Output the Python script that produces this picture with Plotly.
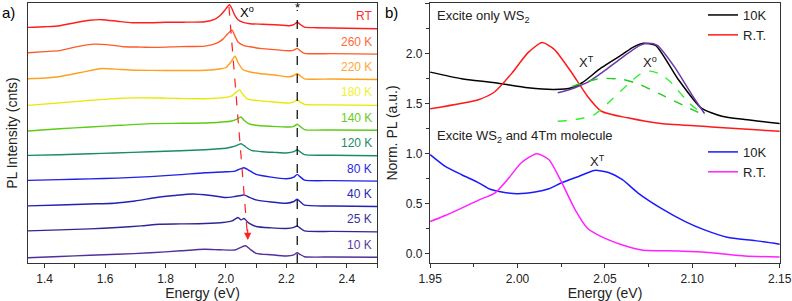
import plotly.graph_objects as go

# ---------------- Panel a: temperature-dependent PL (offset spectra) ----------------
temps = ["RT", "260 K", "220 K", "180 K", "140 K", "120 K", "80 K", "40 K", "25 K", "10 K"]
temp_colors = ["#ff1e1e", "#ff5a28", "#ffa01e", "#e8e800", "#5ccc14",
               "#1a8c64", "#2020e8", "#2222b4", "#2e2698", "#50309a"]
label_colors = ["#ff3030", "#ff6a3a", "#ffa830", "#f0f030", "#66cc22",
                "#1a8c64", "#2a2ae8", "#2a2ab4", "#3a3298", "#5a3aa0"]

E_RT = [1.345, 1.40, 1.45, 1.50, 1.55, 1.59, 1.64, 1.69, 1.75, 1.80, 1.86, 1.93, 1.96, 1.98, 1.995,
        2.005, 2.012, 2.02, 2.03, 2.04, 2.06, 2.08, 2.12, 2.16, 2.21, 2.225, 2.236, 2.245, 2.26, 2.30, 2.40, 2.50]
I_RT = [1.3, 2, 3, 6, 8.5, 9, 7.5, 6, 6, 6.5, 6.5, 7, 9, 13, 18,
        22, 24, 20, 13, 9, 6, 5, 4.5, 4, 3, 4, 6.5, 4.5, 1.5, 1, 0.5, 0]

E_260 = [1.345, 1.40, 1.45, 1.50, 1.565, 1.62, 1.665, 1.72, 1.77, 1.85, 1.93, 1.97, 1.99, 2.005, 2.02,
         2.03, 2.04, 2.06, 2.08, 2.12, 2.16, 2.21, 2.225, 2.236, 2.245, 2.26, 2.35, 2.50]
I_260 = [1.3, 2.5, 3.5, 7, 10, 9, 7.3, 7, 6.7, 7.5, 8, 11, 15, 20, 24,
         18, 12, 8.5, 7.3, 5.5, 4.5, 3.3, 4, 5.7, 3.5, 0.7, 0.5, 0]

E_220 = [1.345, 1.40, 1.45, 1.52, 1.59, 1.65, 1.70, 1.80, 1.93, 1.98, 2.00, 2.015, 2.03, 2.04, 2.056,
         2.08, 2.11, 2.16, 2.21, 2.225, 2.236, 2.245, 2.26, 2.35, 2.50]
I_220 = [0.7, 1.5, 3, 7, 11, 10, 9.3, 9, 9.3, 10.5, 12, 17, 23.3, 17, 10,
         7.5, 6, 4.5, 2.7, 4, 6, 4, 0.7, 0.5, 0]

E_180 = [1.345, 1.45, 1.55, 1.62, 1.70, 1.80, 1.93, 2.00, 2.02, 2.035, 2.045, 2.055, 2.07, 2.10, 2.15,
         2.21, 2.225, 2.236, 2.245, 2.26, 2.35, 2.50]
I_180 = [-0.5, 2, 4.5, 6, 7, 6.8, 6.2, 7.5, 9, 13, 15, 11, 6, 4.5, 3,
         1.8, 3, 5, 3, 0.5, 0, -0.5]

E_140 = [1.345, 1.45, 1.55, 1.65, 1.75, 1.85, 1.93, 2.00, 2.02, 2.035, 2.05, 2.06, 2.075, 2.10, 2.15,
         2.21, 2.225, 2.236, 2.245, 2.26, 2.35, 2.50]
I_140 = [-0.7, 1.5, 3.3, 5, 6.7, 7, 7.3, 8.5, 9.3, 11, 13.3, 10, 6.7, 5, 4,
         3.3, 4, 6, 4, 0.7, 0.3, 0]

E_120 = [1.345, 1.45, 1.55, 1.63, 1.75, 1.85, 1.93, 2.00, 2.03, 2.05, 2.06, 2.084, 2.12, 2.16, 2.20,
         2.225, 2.236, 2.245, 2.26, 2.35, 2.50]
I_120 = [0.3, 1, 2, 2.7, 4, 5, 6, 7.5, 9.5, 12, 10, 5.3, 4, 3.3, 2.7,
         4, 6, 4, 1, 0.5, 0]

E_80 = [1.345, 1.45, 1.55, 1.64, 1.75, 1.85, 1.93, 2.00, 2.03, 2.05, 2.06, 2.075, 2.10, 2.15, 2.20,
        2.225, 2.236, 2.245, 2.26, 2.35, 2.50]
I_80 = [0.7, 1.5, 2.2, 3, 4.5, 6.5, 8.4, 9.3, 10, 12.5, 13.4, 11, 6.7, 4, 2.4,
        4, 6.7, 4.5, 1, 0.5, 0]

E_40 = [1.345, 1.45, 1.55, 1.63, 1.70, 1.77, 1.83, 1.89, 1.95, 2.00, 2.03, 2.05, 2.06, 2.075, 2.10,
        2.15, 2.20, 2.225, 2.236, 2.245, 2.26, 2.35, 2.50]
I_40 = [0.6, 1.5, 2.5, 3.3, 5.5, 9, 11, 12.5, 11, 9, 10, 11, 11.6, 9.5, 6.6,
        4.5, 3.3, 5, 7.3, 5, 1.3, 0.5, 0]

E_25 = [1.345, 1.45, 1.55, 1.64, 1.72, 1.78, 1.85, 1.93, 1.99, 2.02, 2.04, 2.05, 2.06, 2.075, 2.10,
        2.15, 2.20, 2.225, 2.236, 2.245, 2.26, 2.35, 2.50]
I_25 = [1, 2, 3, 4.4, 6, 7.7, 8, 8.4, 9.4, 11, 14.4, 12, 13.4, 9, 5.4,
        4, 3.4, 4.5, 6, 4, 1, 0.5, 0]

E_10 = [1.345, 1.45, 1.55, 1.64, 1.75, 1.85, 1.93, 1.98, 2.03, 2.05, 2.065, 2.08, 2.10, 2.15, 2.20,
        2.225, 2.236, 2.245, 2.26, 2.35, 2.50]
I_10 = [-0.4, 0.8, 2, 3, 4.5, 6.5, 8, 7.5, 7.3, 10, 11.6, 8, 4, 2.5, 1.3,
        2.5, 4.6, 3, 0.6, 0.3, 0]

spectra_E = [E_RT, E_260, E_220, E_180, E_140, E_120, E_80, E_40, E_25, E_10]
spectra_I = [I_RT, I_260, I_220, I_180, I_140, I_120, I_80, I_40, I_25, I_10]
offset_step = 25.4
offset_base = 5.7

# X0 shift guide (peak positions) and Raman marker
x0_guide_E = [2.010, 2.0725]
x0_guide_I = [256.3, 23]
raman_E = 2.236

# ---------------- Panel b: normalized PL ----------------
Eb_10K_ws2 = [1.95, 1.968, 1.987, 2.006, 2.021, 2.031, 2.037, 2.048, 2.06, 2.066, 2.072, 2.079,
              2.092, 2.105, 2.117, 2.13, 2.15]
Ib_10K_ws2 = [1.813, 1.747, 1.707, 1.657, 1.64, 1.657, 1.707, 1.857, 1.99, 2.06, 2.1, 2.08,
              1.74, 1.457, 1.373, 1.34, 1.30]
Eb_RT_ws2 = [1.95, 1.978, 1.987, 1.997, 2.006, 2.014, 2.021, 2.031, 2.04, 2.048, 2.063, 2.082,
             2.111, 2.15]
Ib_RT_ws2 = [1.447, 1.54, 1.617, 1.807, 2.007, 2.107, 2.04, 1.807, 1.573, 1.423, 1.357, 1.30,
             1.267, 1.223]
Eb_fit = [2.023, 2.03, 2.04, 2.05, 2.06, 2.07, 2.075, 2.08, 2.09, 2.10, 2.107]
Ib_fit = [1.607, 1.64, 1.71, 1.83, 1.96, 2.08, 2.1, 2.08, 1.86, 1.58, 1.40]
Eb_XT = [2.031, 2.04, 2.048, 2.06, 2.07, 2.082, 2.095, 2.107]
Ib_XT = [1.667, 1.72, 1.75, 1.74, 1.69, 1.59, 1.48, 1.383]
Eb_X0 = [2.023, 2.035, 2.044, 2.054, 2.063, 2.07, 2.076, 2.082, 2.088, 2.098, 2.107]
Ib_X0 = [1.323, 1.345, 1.39, 1.54, 1.69, 1.79, 1.823, 1.79, 1.707, 1.507, 1.383]

Eb_10K_mol = [1.95, 1.9586, 1.968, 1.978, 1.984, 1.991, 2.0, 2.01, 2.018, 2.025, 2.035, 2.044,
              2.052, 2.06, 2.069, 2.082, 2.096, 2.107, 2.12, 2.136, 2.15]
Ib_10K_mol = [0.99, 0.873, 0.79, 0.707, 0.647, 0.617, 0.60, 0.617, 0.65, 0.707, 0.773, 0.833,
              0.813, 0.74, 0.607, 0.457, 0.323, 0.24, 0.167, 0.133, 0.097]
Eb_RT_mol = [1.95, 1.9586, 1.968, 1.978, 1.987, 1.995, 2.002, 2.011, 2.018, 2.025, 2.033, 2.04,
             2.048, 2.06, 2.071, 2.092, 2.111, 2.13, 2.15]
Ib_RT_mol = [0.323, 0.383, 0.457, 0.54, 0.607, 0.757, 0.907, 1.0, 0.94, 0.723, 0.44, 0.257,
             0.173, 0.09, 0.04, 0.03, 0.013, -0.02, -0.03]

FONT = "Arial, Liberation Sans, sans-serif"
fig = go.Figure()

# Panel a traces
for k in range(len(temps)):
    off = offset_base + offset_step * (len(temps) - 1 - k)
    fig.add_trace(go.Scatter(
        x=spectra_E[k], y=[v + off for v in spectra_I[k]],
        mode="lines", line=dict(color=temp_colors[k], width=1.4, shape="spline", smoothing=0.6),
        showlegend=False, xaxis="x", yaxis="y", hoverinfo="skip"))
    fig.add_annotation(x=2.49, y=off + 12.5, xref="x", yref="y", text=temps[k],
                       showarrow=False, xanchor="right", yanchor="middle",
                       font=dict(family=FONT, size=12, color=label_colors[k]))

# guide lines in panel a
fig.add_trace(go.Scatter(x=[raman_E, raman_E], y=[0, 253], mode="lines",
                         line=dict(color="black", width=1.2, dash="dash"),
                         showlegend=False, xaxis="x", yaxis="y", hoverinfo="skip"))
fig.add_trace(go.Scatter(x=x0_guide_E, y=x0_guide_I, mode="lines",
                         line=dict(color="#ff2020", width=1.2, dash="dash"),
                         showlegend=False, xaxis="x", yaxis="y", hoverinfo="skip"))
fig.add_annotation(x=x0_guide_E[1], y=x0_guide_I[1], ax=x0_guide_E[1] - 0.0008, ay=x0_guide_I[1] + 12,
                   xref="x", yref="y", axref="x", ayref="y", text="", showarrow=True,
                   arrowhead=2, arrowsize=1.2, arrowwidth=1.2, arrowcolor="#ff2020")
fig.add_annotation(x=raman_E, y=255, xref="x", yref="y", text="*", showarrow=False,
                   font=dict(family=FONT, size=13, color="black"), yanchor="middle")
fig.add_annotation(x=2.069, y=251, xref="x", yref="y", text="X<sup>o</sup>", showarrow=False,
                   font=dict(family=FONT, size=13, color="black"), yanchor="middle")

# Panel b traces
fig.add_trace(go.Scatter(x=Eb_10K_ws2, y=Ib_10K_ws2, mode="lines", name="10K",
                         line=dict(color="black", width=1.5, shape="spline", smoothing=0.6),
                         xaxis="x2", yaxis="y2", legend="legend"))
fig.add_trace(go.Scatter(x=Eb_RT_ws2, y=Ib_RT_ws2, mode="lines", name="R.T.",
                         line=dict(color="#ff1a1a", width=1.5, shape="spline", smoothing=0.6),
                         xaxis="x2", yaxis="y2", legend="legend"))
fig.add_trace(go.Scatter(x=Eb_fit, y=Ib_fit, mode="lines", showlegend=False,
                         line=dict(color="#6a3aa8", width=1.5, shape="spline", smoothing=0.6),
                         xaxis="x2", yaxis="y2"))
fig.add_trace(go.Scatter(x=Eb_XT, y=Ib_XT, mode="lines", showlegend=False,
                         line=dict(color="#22cc22", width=1.4, dash="dash", shape="spline", smoothing=0.6),
                         xaxis="x2", yaxis="y2"))
fig.add_trace(go.Scatter(x=Eb_X0, y=Ib_X0, mode="lines", showlegend=False,
                         line=dict(color="#33ee33", width=1.4, dash="dash", shape="spline", smoothing=0.6),
                         xaxis="x2", yaxis="y2"))
fig.add_trace(go.Scatter(x=Eb_10K_mol, y=Ib_10K_mol, mode="lines", name="10K",
                         line=dict(color="#1a1aff", width=1.5, shape="spline", smoothing=0.6),
                         xaxis="x2", yaxis="y2", legend="legend2"))
fig.add_trace(go.Scatter(x=Eb_RT_mol, y=Ib_RT_mol, mode="lines", name="R.T.",
                         line=dict(color="#ff22ff", width=1.5, shape="spline", smoothing=0.6),
                         xaxis="x2", yaxis="y2", legend="legend2"))

txt_font = dict(family=FONT, size=13, color="#222")
fig.add_annotation(x=1.953, y=2.37, xref="x2", yref="y2", text="Excite only WS<sub>2</sub>",
                   showarrow=False, xanchor="left", yanchor="middle", font=txt_font)
fig.add_annotation(x=1.953, y=1.17, xref="x2", yref="y2", text="Excite WS<sub>2</sub> and 4Tm molecule",
                   showarrow=False, xanchor="left", yanchor="middle", font=txt_font)
fig.add_annotation(x=2.0397, y=1.91, xref="x2", yref="y2", text="X<sup>T</sup>",
                   showarrow=False, font=txt_font)
fig.add_annotation(x=2.076, y=1.91, xref="x2", yref="y2", text="X<sup>o</sup>",
                   showarrow=False, font=txt_font)
fig.add_annotation(x=2.046, y=0.93, xref="x2", yref="y2", text="X<sup>T</sup>",
                   showarrow=False, font=txt_font)

# Panel letters
fig.add_annotation(x=0.0, y=1 - 13 / 301, xref="paper", yref="paper", text="a)", showarrow=False,
                   xanchor="left", yanchor="middle", font=dict(family=FONT, size=15, color="black"))
fig.add_annotation(x=383 / 792, y=1 - 13 / 301, xref="paper", yref="paper", text="b)", showarrow=False,
                   xanchor="left", yanchor="middle", font=dict(family=FONT, size=15, color="black"))

axis_common = dict(showline=True, linecolor="#333", linewidth=1.2, mirror=True,
                   showgrid=False, zeroline=False, automargin=False,
                   tickfont=dict(family=FONT, size=12, color="#222"),
                   title_font=dict(family=FONT, size=14, color="#222"))

fig.update_layout(
    width=792, height=301, margin=dict(l=0, r=0, t=0, b=0, autoexpand=False),
    paper_bgcolor="white", plot_bgcolor="white",
    xaxis=dict(domain=[28 / 792, 377 / 792], range=[1.345, 2.5], anchor="y",
               ticks="outside", ticklen=4, tickcolor="#333", dtick=0.2, tick0=1.4,
               tickformat=".1f",
               minor=dict(dtick=0.1, tick0=1.4, ticks="outside", ticklen=4, tickcolor="#333"),
               title=dict(text="Energy (eV)", standoff=3), **axis_common),
    yaxis=dict(domain=[38 / 301, 298 / 301], range=[0, 260], anchor="x",
               showticklabels=False, ticks="",
               title=dict(text="PL Intensity (cnts)", standoff=6), **axis_common),
    xaxis2=dict(domain=[430 / 792, 780 / 792], range=[1.9499, 2.1502], anchor="y2",
                ticks="outside", ticklen=4, tickcolor="#333", dtick=0.05, tick0=1.95,
                tickformat=".2f",
                minor=dict(dtick=0.025, ticks="outside", ticklen=3, tickcolor="#333"),
                title=dict(text="Energy (eV)", standoff=3), **axis_common),
    yaxis2=dict(domain=[38 / 301, 298 / 301], range=[-0.09, 2.502], anchor="x2",
                ticks="outside", ticklen=4, tickcolor="#333", dtick=0.5, tick0=0,
                tickformat=".1f",
                minor=dict(dtick=0.25, ticks="outside", ticklen=3, tickcolor="#333"),
                title=dict(text="Norm. PL (a.u.)", standoff=4), **axis_common),
    legend=dict(x=703 / 792, y=1.0, xanchor="left", yanchor="top", bgcolor="rgba(0,0,0,0)",
                font=dict(family=FONT, size=13, color="#222"), tracegroupgap=0,
                itemwidth=30),
    legend2=dict(x=703 / 792, y=0.545, xanchor="left", yanchor="top", bgcolor="rgba(0,0,0,0)",
                 font=dict(family=FONT, size=13, color="#222"), tracegroupgap=0,
                 itemwidth=30),
)

fig.write_html("out.html", config={"displayModeBar": False},
               post_script="document.body.style.margin='0';")
